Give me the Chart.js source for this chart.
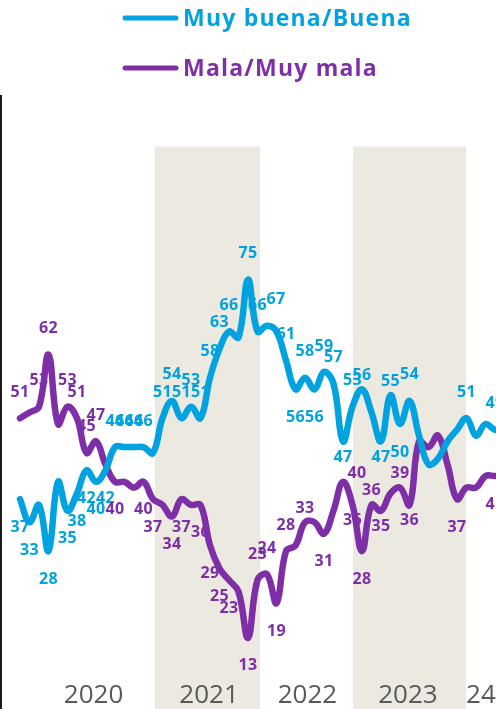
<!DOCTYPE html>
<html lang="es">
<head>
<meta charset="UTF-8">
<meta name="viewport" content="width=device-width, initial-scale=1.0">
<title>Situación económica</title>
<script src="https://cdn.jsdelivr.net/npm/chart.js"></script>
<style>
  html, body { margin: 0; padding: 0; background: #fff; }
  #wrap { width: 496px; height: 709px; position: relative; }
</style>
</head>
<body>
<div id="wrap"><canvas id="chart"></canvas></div>
<script>
// one value per survey, left to right (the last ones run off the right edge)
const buena = [37, 33, 36, 28, 40, 35, 38, 42, 40, 42,
               46, 46, 46, 46, 45, 51, 54, 51, 53, 51,
               58, 63, 66, 65, 75, 66, 67, 66, 61, 56,
               58, 56, 59, 57, 47, 53, 56, 52, 47, 55,
               50, 54, 48, 43, 44, 47, 49, 51, 48, 50,
               49, 49];
const mala = [51, 52, 53, 62, 50, 53, 51, 45, 47, 43,
              40, 40, 39, 40, 37, 36, 34, 37, 36, 36,
              29, 25, 23, 21, 13, 23, 24, 19, 28, 29,
              33, 33, 31, 35, 40, 36, 28, 36, 35, 38,
              39, 36, 47, 46, 48, 43, 37, 39, 39, 41,
              41, 41];

// where each value label goes (10 per chunk):
// t above, b below, u just above, d just below, r above-right, R right, - none
const buenaLbl = ['bb-b-bbbbb', 'tttt-ttttt', 'ttt-ttr-tb', 'tbttdtu-du', 'bt-----t--', 't-'].join('');
const malaLbl  = ['t-tt-tttt-', 'b--bb-bb-b', 'bbb-bttbt-', 'u-b-Rdbud-', 'ud----b---', 'b-'].join('');

const seriesNames = ['Muy buena/Buena', 'Mala/Muy mala'];
const seriesColors = ['#00A3DF', '#7E2FA7'];

// year labels and the shaded years, in survey-index units
const yearNames = ['2020', '2021', '2022', '2023', '24'];
const yearCenters = [7.74, 19.9, 30.26, 40.84, null];
const shadedYears = [[14.2, 25.26], [35.05, 46.95]];
const shadeTop = 98;

const bandColor = '#ECE9E0';

// label offsets from the point, in px
const labelShift = {
    t: [0, -26], b: [0, 28], u: [0, -14], d: [0, 16], r: [9, -26], R: [14, -8]
};

function pts(arr) {
    return arr.map((v, i) => ({ x: i, y: v }));
}

const extras = {
    id: 'extras',
    beforeDatasetsDraw(chart) {
        const ctx = chart.ctx;
        const xs = chart.scales.x, ys = chart.scales.y;
        const area = chart.chartArea;
        ctx.save();
        ctx.fillStyle = bandColor;
        shadedYears.forEach(b => {
            const x0 = xs.getPixelForValue(b[0]);
            const x1 = xs.getPixelForValue(b[1]);
            const y0 = ys.getPixelForValue(shadeTop);
            ctx.fillRect(x0, y0, x1 - x0, area.bottom - y0);
        });
        // year labels
        ctx.fillStyle = '#595959';
        ctx.font = '26px "Open Sans"';
        ctx.textBaseline = 'middle';
        yearNames.forEach((t, i) => {
            if (yearCenters[i] === null) {
                ctx.textAlign = 'left';
                ctx.fillText(t, xs.getPixelForValue(shadedYears[1][1]), 696);
            } else {
                ctx.textAlign = 'center';
                ctx.fillText(t, xs.getPixelForValue(yearCenters[i]), 696);
            }
        });
        ctx.restore();
    },
    afterDatasetsDraw(chart) {
        const ctx = chart.ctx;
        const lbls = [buenaLbl, malaLbl];
        ctx.save();
        ctx.font = 'bold 16px "Open Sans"';
        ctx.letterSpacing = '0.4px';
        ctx.textAlign = 'center';
        ctx.textBaseline = 'middle';
        chart.data.datasets.forEach((ds, d) => {
            const meta = chart.getDatasetMeta(d);
            ctx.fillStyle = ds.borderColor;
            meta.data.forEach((p, i) => {
                const s = labelShift[lbls[d][i]];
                if (s) ctx.fillText(ds.data[i].y, p.x + s[0], p.y + s[1]);
            });
        });
        ctx.restore();
    },
    afterDraw(chart) {
        const ctx = chart.ctx;
        ctx.save();
        // left rule
        ctx.fillStyle = '#1a1a1a';
        ctx.fillRect(0, 95, 2, 614);
        // legend
        const rows = [18, 68];
        ctx.lineCap = 'round';
        ctx.lineWidth = 5;
        ctx.font = 'bold 23px "Open Sans"';
        ctx.letterSpacing = '1.2px';
        ctx.textAlign = 'left';
        ctx.textBaseline = 'middle';
        seriesNames.forEach((n, i) => {
            ctx.strokeStyle = seriesColors[i];
            ctx.beginPath();
            ctx.moveTo(125, rows[i]);
            ctx.lineTo(176, rows[i]);
            ctx.stroke();
            ctx.fillStyle = seriesColors[i];
            ctx.fillText(n, 183, rows[i] + 1);
        });
        ctx.restore();
    }
};

new Chart(document.getElementById('chart'), {
    type: 'line',
    data: {
        datasets: [
            { label: seriesNames[0], data: pts(buena), borderColor: seriesColors[0] },
            { label: seriesNames[1], data: pts(mala), borderColor: seriesColors[1] }
        ]
    },
    options: {
        responsive: true,
        maintainAspectRatio: false,
        animation: false,
        layout: { padding: 0 },
        elements: {
            point: { radius: 0 },
            line: { borderWidth: 6.5, tension: 0.4, borderCapStyle: 'round', borderJoinStyle: 'round', fill: false }
        },
        scales: {
            x: { type: 'linear', display: false, min: -2.105, max: 50.105 },
            y: { display: false, min: 0.69, max: 123.36 }
        },
        plugins: {
            legend: { display: false },
            tooltip: { enabled: false }
        }
    },
    plugins: [extras]
});
</script>
</body>
</html>
